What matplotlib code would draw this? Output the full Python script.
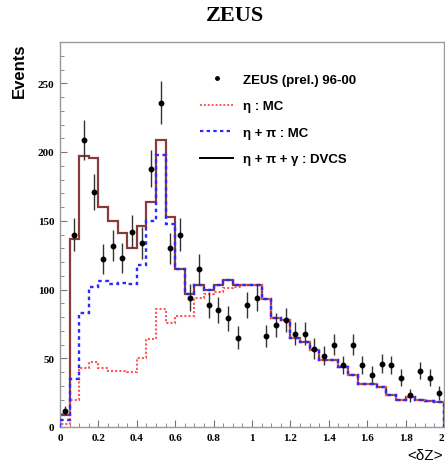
import numpy as np
import matplotlib
matplotlib.use('Agg')
import matplotlib.pyplot as plt
from matplotlib.ticker import MultipleLocator

# 40 bins of width 0.05 in <dZ>
bin_edges = np.linspace(0, 2, 41)
bin_centers = 0.5 * (bin_edges[:-1] + bin_edges[1:])
x_ticks = [0, 0.2, 0.4, 0.6, 0.8, 1.0, 1.2, 1.4, 1.6, 1.8, 2.0]
x_tick_labels = ['0', '0.2', '0.4', '0.6', '0.8', '1', '1.2', '1.4', '1.6', '1.8', '2']

# ZEUS (prel.) 96-00 data
data = [12, 140, 209, 171, 122, 132, 123, 142, 134, 188,
        236, 130, 140, 94, 115, 89, 85, 79, 65, 89,
        94, 66, 74, 78, 68, 68, 57, 52, 60, 45,
        60, 45, 38, 46, 45, 36, 23, 41, 36, 25]
data_err = [3.5, 12, 14.5, 13, 11, 11.5, 11, 12, 11.5, 13.7,
            15.4, 11.4, 11.8, 9.7, 10.7, 9.4, 9.2, 8.9, 8.1, 9.4,
            9.7, 8.1, 8.6, 8.8, 8.2, 8.2, 7.5, 7.2, 7.7, 6.7,
            7.7, 6.7, 6.2, 6.8, 6.7, 6.0, 4.8, 6.4, 6.0, 5.0]

# eta : MC
eta_mc = [2, 20, 43, 47, 43, 41, 41, 40, 50, 64,
          86, 76, 81, 81, 94, 97, 98, 101, 102, 103,
          103, 93, 79, 78, 65, 62, 56, 49, 49, 44,
          38, 31, 31, 29, 23, 20, 22, 20, 19, 18]

# eta + pi : MC
eta_pi_mc = [5, 35, 83, 102, 106, 104, 105, 104, 118, 150,
             198, 148, 115, 97, 103, 100, 103, 107, 103, 103,
             103, 93, 79, 78, 65, 62, 56, 49, 49, 44,
             38, 31, 31, 29, 23, 20, 22, 20, 19, 18]

# eta + pi + gamma : DVCS
total = [9, 137, 197, 196, 160, 150, 141, 130, 146, 164,
         209, 153, 115, 97, 103, 100, 103, 107, 103, 103,
         103, 93, 79, 78, 65, 62, 56, 49, 49, 44,
         38, 31, 31, 29, 23, 20, 22, 20, 19, 18]

fig = plt.figure(figsize=(4.45, 4.64), dpi=100)
ax = fig.add_axes([60/445, 36/464, 384/445, 385/464])

ax.stairs(total, bin_edges, color='#8b3a3a', lw=1.6, baseline=0, zorder=2)
ax.stairs(eta_mc, bin_edges, color='#ff5555', lw=1.5, ls=(0, (1, 1)), baseline=0, zorder=3)
ax.stairs(eta_pi_mc, bin_edges, color='#2a2aff', lw=1.7, ls=(0, (1.5, 1.5)), baseline=0, zorder=4)
ax.errorbar(bin_centers, data, yerr=data_err, fmt='o', color='black', ms=3.2,
            ecolor='#333333', elinewidth=1.0, capsize=0, zorder=5)

# legend handles
h_data = ax.plot([], [], 'o', color='black', ms=2.5)[0]
h_eta = ax.plot([], [], color='#ff5555', lw=1.4, ls=(0, (1, 1)))[0]
h_pi = ax.plot([], [], color='#2a2aff', lw=1.6, ls=(0, (1.5, 1.5)))[0]
h_tot = ax.plot([], [], color='black', lw=1.4)[0]
ax.legend([h_data, h_eta, h_pi, h_tot],
          ['ZEUS (prel.) 96-00', 'η : MC', 'η + π : MC', 'η + π + γ : DVCS'],
          loc='upper left', bbox_to_anchor=(0.365, 0.918), frameon=False,
          borderpad=0, borderaxespad=0, handlelength=2.5, handletextpad=0.75,
          labelspacing=1.08, prop={'family': 'Liberation Sans', 'weight': 'bold', 'size': 9.5})

ax.set_xlim(0, 2)
ax.set_ylim(0, 280)
ax.set_xticks(x_ticks, x_tick_labels)
ax.xaxis.set_minor_locator(MultipleLocator(0.05))
ax.yaxis.set_major_locator(MultipleLocator(50))
ax.yaxis.set_minor_locator(MultipleLocator(10))
ax.tick_params(which='both', direction='in', top=False, right=False, color='#777777')
ax.tick_params(which='major', length=5, width=0.8, pad=4)
ax.tick_params(which='minor', length=3, width=0.6)
for lab in ax.get_xticklabels() + ax.get_yticklabels():
    lab.set_fontfamily('Liberation Serif')
    lab.set_fontweight('bold')
    lab.set_fontsize(8)
ax.get_xticklabels()[-1].set_horizontalalignment('right')
for s in ax.spines.values():
    s.set_color('#999999')
    s.set_linewidth(1.0)

fig.text(235/445, 1 - 16/464, 'ZEUS', ha='center', va='center',
         family='Liberation Serif', weight='bold', fontsize=16)
fig.text(19/445, 1 - 44/464, 'Events', rotation=90, ha='center', va='top',
         family='Liberation Sans', weight='bold', fontsize=12)
fig.text(443/445, 1 - 456/464, '<δZ>', ha='right', va='center',
         family='Liberation Sans', fontsize=11)

fig.savefig('out.png', dpi=100)
